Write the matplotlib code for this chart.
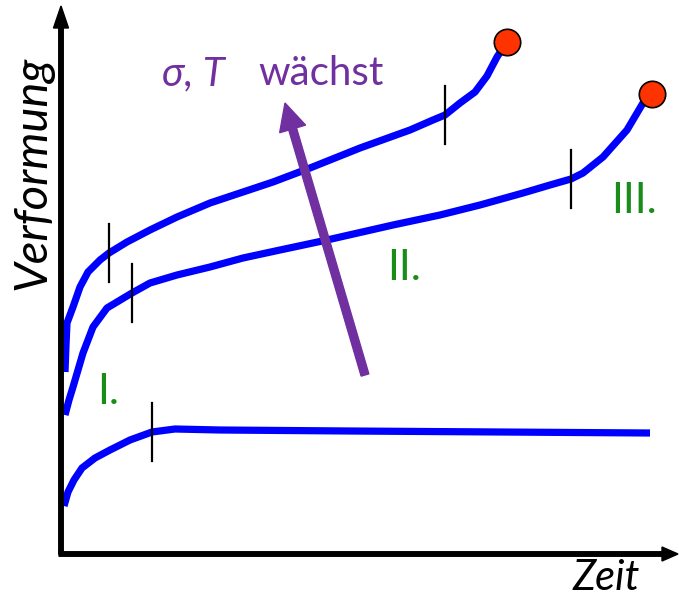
import matplotlib
matplotlib.use("Agg")
import matplotlib.pyplot as plt
import numpy as np
from matplotlib.patches import FancyArrow

plt.rcParams['font.family'] = ['Lato', 'DejaVu Sans']

# creep curves (time, strain), schematic units
t_low = [2, 6, 12, 20, 33, 48, 68, 90, 113, 158, 288, 438, 588]
e_low = [49, 63, 75, 87, 97, 105, 115, 123, 126, 125, 124, 123, 122]

t_mid = [3, 7, 11, 21, 31, 45, 70, 88, 115, 148, 181, 218, 265, 331, 378, 418,
         461, 488, 509, 521, 541, 565, 581, 590]
e_mid = [140, 155, 168, 202, 228, 247, 262, 272, 280, 288, 297, 305, 315, 330,
         340, 350, 362, 370, 376, 382, 398, 425, 452, 461]

t_high = [3, 4, 5, 11, 18, 26, 38, 47, 65, 88, 115, 148, 181, 211, 248, 298,
          348, 371, 383, 398, 413, 425, 435, 445]
e_high = [183, 210, 232, 248, 268, 283, 295, 302, 313, 325, 338, 352, 363, 373,
          387, 407, 425, 435, 440, 452, 463, 479, 498, 513]

# stage boundaries on each curve
stage_marks = [(t_low, e_low, [90]),
               (t_mid, e_mid, [70, 509]),
               (t_high, e_high, [47, 383])]

blue = '#0000FF'
purple = '#7030A0'
green = '#1A8C1A'

fig = plt.figure(figsize=(6.79, 5.98), dpi=100)
ax = fig.add_axes([0, 0, 1, 1])
ax.set_xlim(-62, 617)
ax.set_ylim(-43, 555)
ax.axis('off')

# axes arrows
ax.add_patch(FancyArrow(-1, 1, 0, 548, width=4.5, head_width=15, head_length=22,
                        length_includes_head=True, color='black', zorder=3))
ax.add_patch(FancyArrow(-3, 1, 619, 0, width=4.5, head_width=14, head_length=16,
                        length_includes_head=True, color='black', zorder=3))

for t, e in [(t_low, e_low), (t_mid, e_mid), (t_high, e_high)]:
    ax.plot(t, e, color=blue, lw=5.2, solid_capstyle='butt',
            solid_joinstyle='round', zorder=2)

for t, e, xs in stage_marks:
    for x in xs:
        y = np.interp(x, t, e)
        ax.plot([x, x], [y - 29, y + 29], color='black', lw=1.6, zorder=4)

# rupture points
for t, e in [(t_mid, e_mid), (t_high, e_high)]:
    ax.plot(t[-1], e[-1], 'o', ms=19, mfc='#FF3300', mec='black', mew=1.2,
            zorder=5)

# load / temperature arrow
ax.add_patch(FancyArrow(303, 180, -80, 272, width=8, head_width=27,
                        head_length=27, length_includes_head=True,
                        color=purple, zorder=3))

ax.text(100, 470, 'σ, T', fontsize=29, style='italic', color=purple,
        ha='left', va='baseline')
ax.text(196, 470, 'wächst', fontsize=29, color=purple, ha='left',
        va='baseline')

ax.text(35, 151, 'I.', fontsize=31, color=green, ha='left', va='baseline')
ax.text(325, 275, 'II.', fontsize=31, color=green, ha='left', va='baseline')
ax.text(549, 342, 'III.', fontsize=31, color=green, ha='left', va='baseline')

ax.text(-30, 382, 'Verformung', fontsize=34, style='italic', rotation=90,
        ha='center', va='center')
ax.text(544, -23, 'Zeit', fontsize=30, style='italic', ha='center',
        va='center')

fig.savefig('out.png', dpi=100)
